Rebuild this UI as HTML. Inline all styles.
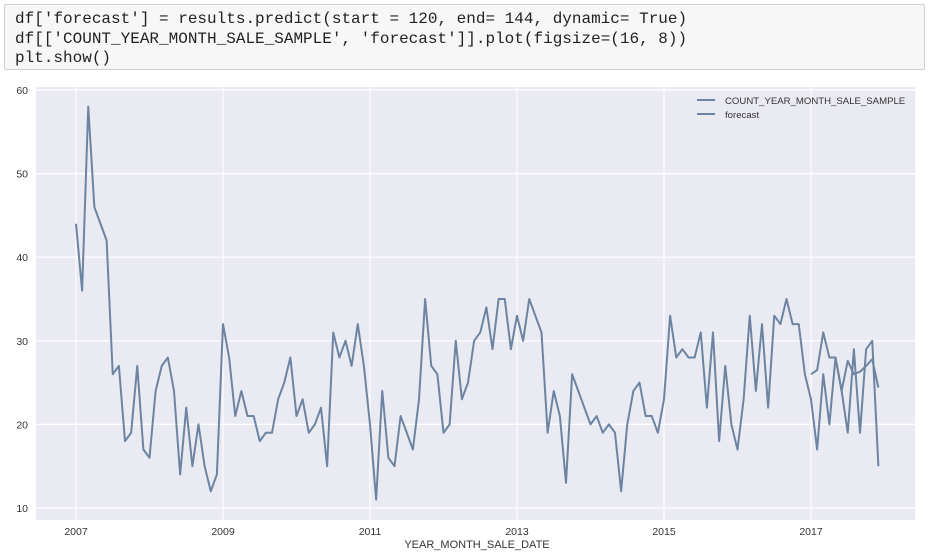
<!DOCTYPE html>
<html><head><meta charset="utf-8"><style>
body{margin:0;width:933px;height:560px;background:#fff;overflow:hidden;position:relative}
.code{position:absolute;left:4px;top:4px;width:921px;height:66px;background:#f7f7f7;border:1px solid #cfcfcf;border-radius:2px;box-sizing:border-box}
.code pre{margin:0;position:absolute;left:10px;top:5px;font-family:"Liberation Mono",monospace;font-size:16px;line-height:19.5px;color:#222}
svg{position:absolute;left:0;top:0}
</style></head><body>
<div class="code"><pre>df['forecast'] = results.predict(start = 120, end= 144, dynamic= True)
df[['COUNT_YEAR_MONTH_SALE_SAMPLE', 'forecast']].plot(figsize=(16, 8))
plt.show()</pre></div>
<svg id="chart" width="933" height="560"></svg>
<script>
const years=[2007,2009,2011,2013,2015,2017];
const yTicks=[10,20,30,40,50,60];
const sales=[44,36,58,46,44,42,26,27,18,19,27,17,
16,24,27,28,24,14,22,15,20,15,12,14,
32,28,21,24,21,21,18,19,19,23,25,28,
21,23,19,20,22,15,31,28,30,27,32,27,
20,11,24,16,15,21,19,17,23,35,27,26,
19,20,30,23,25,30,31,34,29,35,35,29,
33,30,35,33,31,19,24,21,13,26,24,22,
20,21,19,20,19,12,20,24,25,21,21,19,
23,33,28,29,28,28,31,22,31,18,27,20,
17,23,33,24,32,22,33,32,35,32,32,26,
23,17,26,20,28,24,19,29,19,29,30,15];
const forecastStart=120;
const forecast=[26,26.5,31,28,28,24,27.6,26,26.3,27,27.8,24.4];
const NS="http://www.w3.org/2000/svg";
const svg=document.getElementById('chart');
const L=36,R=915,T=87,B=520;
const x=i=>76+(i/12)*73.5;
const y=v=>508-(v-10)*8.36;
function mk(t,a,p){const e=document.createElementNS(NS,t);for(const k in a)e.setAttribute(k,a[k]);(p||svg).appendChild(e);return e;}
const bg=mk('rect',{x:L,y:T,width:R-L,height:B-T,fill:'#eaeaf2'});


yTicks.forEach(v=>{
 const g=mk('line',{x1:L,x2:R,y1:y(v),y2:y(v),stroke:'#fff','stroke-width':1.2});
 
 
 const t=mk('text',{x:28,y:y(v)+4,'text-anchor':'end','font-size':10.5,fill:'#333','font-family':'Liberation Sans, sans-serif'});
 t.textContent=v;
 
 
});
years.forEach(yr=>{
 const xi=x((yr-2007)*12);
 const g=mk('line',{x1:xi,x2:xi,y1:T,y2:B,stroke:'#fff','stroke-width':1.2});
 
 
 const t=mk('text',{x:xi,y:535,'text-anchor':'middle','font-size':10.5,fill:'#333','font-family':'Liberation Sans, sans-serif'});
 t.textContent=yr;
 
 
});
const xl=mk('text',{x:477,y:548,'text-anchor':'middle','font-size':11,fill:'#333','font-family':'Liberation Sans, sans-serif'});
xl.textContent='YEAR_MONTH_SALE_DATE';


const col='#6c84a2';
const p1=mk('polyline',{points:sales.map((v,i)=>x(i)+','+y(v)).join(' '),fill:'none',stroke:col,'stroke-width':2,'stroke-linejoin':'round'});


const p2=mk('polyline',{points:forecast.map((v,i)=>x(forecastStart+i)+','+y(v)).join(' '),fill:'none',stroke:col,'stroke-width':2,'stroke-linejoin':'round'});


[['COUNT_YEAR_MONTH_SALE_SAMPLE',100],['forecast',114]].forEach(([n,yy])=>{
 const g=mk('g',{});
 
 
 mk('line',{x1:697,x2:715,y1:yy,y2:yy,stroke:col,'stroke-width':2},g);
 const t=mk('text',{x:725,y:yy+4,'font-size':9.6,fill:'#333','font-family':'Liberation Sans, sans-serif'},g);
 t.textContent=n;
});
</script>
</body></html>
